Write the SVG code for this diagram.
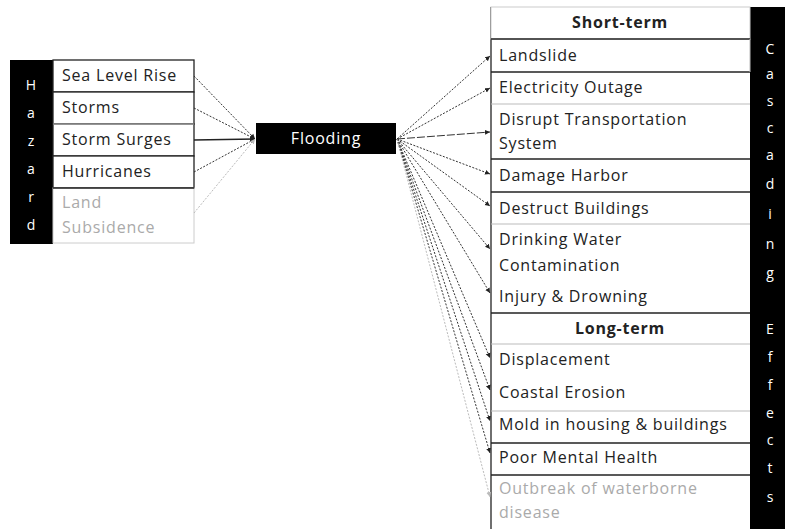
<svg xmlns="http://www.w3.org/2000/svg" width="785" height="529" viewBox="0 0 785 529">
<defs>
<style>
text{font-family:"Open Sans","Liberation Sans",sans-serif;font-size:16px;letter-spacing:0.8px;fill:#222}
.w{fill:#fff;font-size:14px;letter-spacing:0;text-anchor:middle}
.g{fill:#aaa}
.b{font-weight:bold;text-anchor:middle}
.box{fill:#fff;stroke:#222;stroke-width:1.3}
.lt{stroke:#bbb;stroke-width:1}
.dk{stroke:#222;stroke-width:1.3}
.c{fill:none;stroke:#333;stroke-width:1;stroke-dasharray:2 1.5}
.cg{fill:none;stroke:#bbb;stroke-width:1;stroke-dasharray:2 1.5}
</style>
<marker id="ah" markerWidth="6" markerHeight="6" refX="5" refY="3" orient="auto" markerUnits="userSpaceOnUse"><path d="M0,0.5 L5,3 L0,5.5 Z" fill="#222"/></marker>
<marker id="ahg" markerWidth="6" markerHeight="6" refX="5" refY="3" orient="auto" markerUnits="userSpaceOnUse"><path d="M0,0.5 L5,3 L0,5.5 Z" fill="#bbb"/></marker>
</defs>
<rect width="785" height="529" fill="#fff"/>

<g id="hazard">
<rect x="10" y="60" width="43" height="184" fill="#000"/>
<text class="w" x="31" y="90">H</text>
<text class="w" x="31" y="118">a</text>
<text class="w" x="31" y="146">z</text>
<text class="w" x="31" y="174">a</text>
<text class="w" x="31" y="202">r</text>
<text class="w" x="31" y="230">d</text>
</g>
<g id="sea-level-rise"><rect class="box" x="53" y="60" width="141" height="32"/><text x="62" y="81">Sea Level Rise</text></g>
<g id="storms"><rect class="box" x="53" y="92" width="141" height="32"/><text x="62" y="113">Storms</text></g>
<g id="storm-surges"><rect class="box" x="53" y="124" width="141" height="32"/><line class="lt" x1="53" y1="124" x2="194" y2="124"/><text x="62" y="145">Storm Surges</text></g>
<g id="hurricanes"><rect class="box" x="53" y="156" width="141" height="32"/><text x="62" y="177">Hurricanes</text></g>
<g id="land-subsidence"><rect x="53" y="188" width="141" height="55" fill="#fff" stroke="#ccc"/><line class="dk" x1="53" y1="188" x2="194" y2="188"/><text class="g" x="62" y="208">Land</text><text class="g" x="62" y="233">Subsidence</text></g>

<g id="flooding"><rect x="256" y="123" width="140" height="31" fill="#000"/><text class="w" x="326" y="144" style="font-size:16px;letter-spacing:0.8px">Flooding</text></g>

<g id="effects-frame">
<line class="dk" x1="491" y1="7" x2="491" y2="529"/>
<rect x="750" y="7" width="35" height="522" fill="#000"/>
<text class="w" x="770" y="54">C</text>
<text class="w" x="770" y="79">a</text>
<text class="w" x="770" y="106">s</text>
<text class="w" x="770" y="133">c</text>
<text class="w" x="770" y="160">a</text>
<text class="w" x="770" y="189">d</text>
<text class="w" x="770" y="219">i</text>
<text class="w" x="770" y="249">n</text>
<text class="w" x="770" y="278">g</text>
<text class="w" x="770" y="334">E</text>
<text class="w" x="770" y="362">f</text>
<text class="w" x="770" y="390">f</text>
<text class="w" x="770" y="418">e</text>
<text class="w" x="770" y="445">c</text>
<text class="w" x="770" y="473">t</text>
<text class="w" x="770" y="502">s</text>
</g>
<g id="short-term"><rect x="491" y="7" width="259" height="32" fill="#fff" stroke="#ccc"/><line class="dk" x1="491" y1="39" x2="750" y2="39"/><text class="b" x="620" y="28">Short-term</text></g>
<g id="landslide"><line class="dk" x1="491" y1="72" x2="750" y2="72"/><line class="lt" x1="750" y1="39" x2="750" y2="72"/><text x="499" y="61">Landslide</text></g>
<g id="electricity-outage"><line class="lt" x1="491" y1="104" x2="750" y2="104"/><text x="499" y="93">Electricity Outage</text></g>
<g id="disrupt-transportation"><line class="dk" x1="491" y1="159" x2="750" y2="159"/><text x="499" y="125">Disrupt Transportation</text><text x="499" y="149">System</text></g>
<g id="damage-harbor"><line class="dk" x1="491" y1="192" x2="750" y2="192"/><text x="499" y="181">Damage Harbor</text></g>
<g id="destruct-buildings"><line class="lt" x1="491" y1="224" x2="750" y2="224"/><text x="499" y="214">Destruct Buildings</text></g>
<g id="drinking-water"><text x="499" y="245">Drinking Water</text><text x="499" y="271">Contamination</text></g>
<g id="injury-drowning"><line class="dk" x1="491" y1="313" x2="750" y2="313"/><text x="499" y="302">Injury &amp; Drowning</text></g>
<g id="long-term"><line class="lt" x1="491" y1="344" x2="750" y2="344"/><text class="b" x="620" y="334">Long-term</text></g>
<g id="displacement"><text x="499" y="365">Displacement</text></g>
<g id="coastal-erosion"><line class="lt" x1="491" y1="411" x2="750" y2="411"/><text x="499" y="398">Coastal Erosion</text></g>
<g id="mold"><line class="dk" x1="491" y1="443" x2="750" y2="443"/><text x="499" y="430">Mold in housing &amp; buildings</text></g>
<g id="mental-health"><line class="dk" x1="491" y1="475" x2="750" y2="475"/><text x="499" y="463">Poor Mental Health</text></g>
<g id="outbreak"><text class="g" x="499" y="494">Outbreak of waterborne</text><text class="g" x="499" y="518">disease</text></g>

<g id="connectors">
<path class="c" d="M194,76 L255,139" marker-end="url(#ah)"/>
<path class="c" d="M194,108 L255,139" marker-end="url(#ah)"/>
<path d="M194,140 L255,139" stroke="#222" stroke-width="1.3" fill="none" marker-end="url(#ah)"/>
<path class="c" d="M194,172 L255,139" marker-end="url(#ah)"/>
<path class="cg" d="M194,213 L255,139" marker-end="url(#ahg)"/>
<path class="c" d="M397,139 L490,56" marker-end="url(#ah)"/>
<path class="c" d="M397,139 L490,88" marker-end="url(#ah)"/>
<path class="c" d="M397,139 L490,132" style="stroke-dasharray:8 2" marker-end="url(#ah)"/>
<path class="c" d="M397,139 L490,174" marker-end="url(#ah)"/>
<path class="c" d="M397,139 L490,206" marker-end="url(#ah)"/>
<path class="c" d="M397,139 L490,249" marker-end="url(#ah)"/>
<path class="c" d="M397,139 L490,293" marker-end="url(#ah)"/>
<path class="c" d="M397,139 L490,358" marker-end="url(#ah)"/>
<path class="c" d="M397,139 L490,390" marker-end="url(#ah)"/>
<path class="c" d="M397,139 L490,421" marker-end="url(#ah)"/>
<path class="c" d="M397,139 L490,453" marker-end="url(#ah)"/>
<path class="cg" d="M397,139 L490,497" marker-end="url(#ahg)"/>
</g>
</svg>
